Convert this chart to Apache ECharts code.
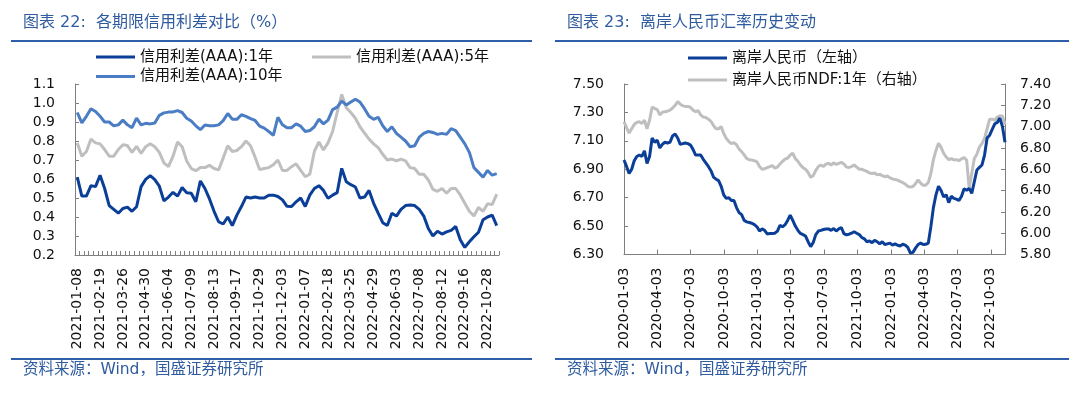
<!DOCTYPE html>
<html><head><meta charset="utf-8">
<script src="https://cdn.jsdelivr.net/npm/echarts@6/dist/echarts.min.js"></script>
<style>html,body{margin:0;padding:0;background:#fff}#c{width:1080px;height:395px}</style>
</head><body><div id="c"></div>
<script>
// ---------- Chart 22: credit spreads (weekly) ----------
const spreadDates = [
'2021-01-08','2021-01-15','2021-01-22','2021-01-29','2021-02-05','2021-02-19','2021-02-26','2021-03-05','2021-03-12','2021-03-19',
'2021-03-26','2021-04-02','2021-04-09','2021-04-16','2021-04-23','2021-04-30','2021-05-07','2021-05-14','2021-05-21','2021-05-28',
'2021-06-04','2021-06-11','2021-06-18','2021-06-25','2021-07-02','2021-07-09','2021-07-16','2021-07-23','2021-07-30','2021-08-06',
'2021-08-13','2021-08-20','2021-08-27','2021-09-03','2021-09-10','2021-09-17','2021-09-24','2021-10-08','2021-10-15','2021-10-22',
'2021-10-29','2021-11-05','2021-11-12','2021-11-19','2021-11-26','2021-12-03','2021-12-10','2021-12-17','2021-12-24','2021-12-31',
'2022-01-07','2022-01-14','2022-01-21','2022-01-28','2022-02-11','2022-02-18','2022-02-25','2022-03-04','2022-03-11','2022-03-18',
'2022-03-25','2022-04-01','2022-04-08','2022-04-15','2022-04-22','2022-04-29','2022-05-06','2022-05-13','2022-05-20','2022-05-27',
'2022-06-03','2022-06-10','2022-06-17','2022-06-24','2022-07-01','2022-07-08','2022-07-15','2022-07-22','2022-07-29','2022-08-05',
'2022-08-12','2022-08-19','2022-08-26','2022-09-02','2022-09-09','2022-09-16','2022-09-23','2022-09-30','2022-10-14','2022-10-21',
'2022-10-28','2022-11-04','2022-11-11'];
const spread1Y = [
0.61,0.51,0.51,0.565,0.56,0.62,0.55,0.46,0.44,0.42,
0.445,0.452,0.43,0.454,0.56,0.598,0.618,0.597,0.562,0.485,
0.505,0.53,0.51,0.555,0.528,0.525,0.48,0.59,0.55,0.495,
0.43,0.375,0.363,0.40,0.355,0.41,0.455,0.505,0.50,0.505,
0.50,0.50,0.515,0.515,0.508,0.49,0.456,0.455,0.48,0.50,
0.455,0.515,0.55,0.565,0.54,0.498,0.515,0.528,0.656,0.585,
0.57,0.558,0.50,0.505,0.54,0.472,0.42,0.37,0.355,0.42,
0.405,0.44,0.46,0.463,0.46,0.44,0.405,0.34,0.30,0.325,
0.31,0.322,0.33,0.35,0.28,0.24,0.27,0.296,0.32,0.385,
0.40,0.41,0.355];
const spread5Y = [
0.79,0.72,0.745,0.81,0.79,0.785,0.755,0.72,0.72,0.755,
0.78,0.776,0.74,0.772,0.735,0.77,0.785,0.77,0.74,0.685,
0.665,0.72,0.795,0.77,0.695,0.655,0.644,0.66,0.66,0.672,
0.655,0.648,0.71,0.775,0.745,0.75,0.77,0.80,0.775,0.715,
0.65,0.655,0.66,0.675,0.70,0.645,0.645,0.665,0.68,0.645,
0.612,0.625,0.745,0.795,0.753,0.79,0.85,0.95,1.045,0.975,
0.95,0.92,0.875,0.842,0.81,0.785,0.765,0.73,0.70,0.705,
0.695,0.705,0.695,0.66,0.655,0.625,0.625,0.595,0.545,0.535,
0.55,0.525,0.55,0.55,0.516,0.472,0.43,0.405,0.45,0.43,
0.47,0.465,0.52];
const spread10Y = [
0.95,0.895,0.93,0.97,0.955,0.93,0.90,0.90,0.88,0.885,
0.91,0.885,0.87,0.92,0.885,0.893,0.89,0.895,0.935,0.948,
0.952,0.953,0.96,0.95,0.92,0.905,0.88,0.86,0.884,0.88,
0.88,0.885,0.907,0.945,0.915,0.914,0.938,0.93,0.918,0.908,
0.878,0.868,0.85,0.83,0.925,0.885,0.87,0.87,0.89,0.878,
0.85,0.855,0.875,0.915,0.89,0.91,0.965,0.978,1.01,0.99,
1.005,1.02,1.005,0.97,0.93,0.914,0.925,0.88,0.85,0.875,
0.84,0.82,0.80,0.77,0.775,0.82,0.84,0.85,0.845,0.835,
0.84,0.835,0.865,0.855,0.82,0.785,0.74,0.66,0.635,0.61,
0.645,0.62,0.628];
const spreadTicks = [0.2,0.3,0.4,0.5,0.6,0.7,0.8,0.9,1.0,1.1];

// ---------- Chart 23: offshore RMB (weekly, Fridays from 2020-01-03) ----------
const fxStart = '2020-01-03';
const fxEnd = '2022-11-11';
const cnhWeekly = [
6.965,6.92,6.87,6.90,6.96,6.99,7.00,6.99,7.03,6.94,
6.99,7.12,7.09,7.105,7.05,7.075,7.09,7.085,7.09,7.135,
7.148,7.12,7.075,7.08,7.085,7.08,7.07,7.04,7.00,7.00,
7.00,6.97,6.945,6.92,6.89,6.845,6.83,6.82,6.78,6.72,
6.695,6.70,6.68,6.68,6.63,6.595,6.58,6.54,6.53,6.525,
6.52,6.51,6.495,6.465,6.48,6.47,6.445,6.448,6.448,6.45,
6.465,6.505,6.495,6.51,6.54,6.577,6.54,6.50,6.47,6.448,
6.44,6.43,6.39,6.355,6.385,6.44,6.465,6.47,6.476,6.48,
6.48,6.47,6.483,6.465,6.48,6.49,6.447,6.438,6.443,6.45,
6.46,6.45,6.44,6.42,6.41,6.39,6.396,6.383,6.40,6.39,
6.375,6.39,6.37,6.375,6.38,6.366,6.375,6.365,6.36,6.372,
6.366,6.35,6.31,6.315,6.345,6.37,6.38,6.37,6.372,6.38,
6.495,6.63,6.72,6.78,6.75,6.705,6.72,6.665,6.71,6.695,
6.69,6.68,6.71,6.762,6.753,6.765,6.73,6.812,6.895,6.913,
6.93,7.00,7.12,7.14,7.18,7.22,7.23,7.26,7.20,7.09];
const ndfWeekly = [
7.046,6.99,6.94,6.98,7.02,7.04,7.046,7.03,7.06,6.98,
7.06,7.185,7.17,7.16,7.11,7.135,7.14,7.145,7.155,7.175,
7.20,7.235,7.21,7.195,7.19,7.19,7.18,7.155,7.14,7.15,
7.11,7.09,7.085,7.07,7.05,7.01,6.98,6.98,7.00,6.935,
6.89,6.86,6.84,6.85,6.83,6.79,6.765,6.735,6.70,6.69,
6.686,6.68,6.67,6.625,6.60,6.605,6.615,6.625,6.635,6.61,
6.62,6.65,6.675,6.695,6.705,6.733,6.75,6.70,6.675,6.64,
6.615,6.60,6.57,6.525,6.54,6.59,6.625,6.64,6.625,6.65,
6.655,6.64,6.66,6.645,6.655,6.665,6.65,6.62,6.617,6.625,
6.64,6.62,6.60,6.60,6.59,6.58,6.565,6.56,6.565,6.548,
6.552,6.54,6.53,6.536,6.52,6.51,6.503,6.498,6.486,6.475,
6.46,6.44,6.432,6.438,6.465,6.50,6.47,6.45,6.45,6.475,
6.56,6.69,6.775,6.843,6.805,6.75,6.715,6.69,6.70,6.688,
6.69,6.68,6.698,6.71,6.686,6.42,6.56,6.70,6.74,6.81,
6.84,6.89,6.98,7.07,7.07,7.06,7.09,7.10,7.10,7.02];
const cnhTicks = [6.3,6.5,6.7,6.9,7.1,7.3,7.5];
const ndfTicks = [5.8,6.0,6.2,6.4,6.6,6.8,7.0,7.2,7.4];
const fxLabelDates = ['2020-01-03','2020-04-03','2020-07-03','2020-10-03','2021-01-03','2021-04-03',
  '2021-07-03','2021-10-03','2022-01-03','2022-04-03','2022-07-03','2022-10-03'];

// calendar days for the FX category axis
function calendarDays(a, b) {
  const out = [];
  const p = s => { const [y, m, d] = s.split('-').map(Number); return Date.UTC(y, m - 1, d); };
  for (let t = p(a); t <= p(b); t += 86400000) {
    const d = new Date(t);
    out.push(d.getUTCFullYear() + '-' + String(d.getUTCMonth() + 1).padStart(2, '0') + '-' + String(d.getUTCDate()).padStart(2, '0'));
  }
  return out;
}
const fxDays = calendarDays(fxStart, fxEnd);
const fxWeeks = fxDays.filter((d, i) => i % 7 === 0);
const fxLabelSet = new Set(fxLabelDates);

const BLUE_TITLE = '#2f5b9f', RULE = '#2e5fa8';
const C1 = '#0b3f97', C10 = '#4a7dc4', GRAY = '#bfbfbf';
const AX = '#7f7f7f', TXT = '#111';
const FONT = "'DejaVu Sans','Noto Sans CJK SC',sans-serif";
const CJK = "'DejaVu Sans','Noto Sans CJK SC',sans-serif";

const chart = echarts.init(document.getElementById('c'), null, {renderer: 'canvas'});

const titleStyle = {fontSize: 16, color: BLUE_TITLE, fontWeight: 'normal', fontFamily: CJK};
const footStyle = {fontSize: 15.5, color: BLUE_TITLE, fontWeight: 'normal', fontFamily: CJK};
const legendText = {fontSize: 15, color: TXT, fontFamily: CJK};
function lg(name, left, top, color) {
  return {data: [name], left, top, padding: 0, icon: 'rect', itemWidth: 39, itemHeight: 3,
    selectedMode: false, textStyle: legendText, itemStyle: {color}};
}
const yLabel = {fontSize: 14, color: TXT, fontFamily: FONT};

chart.setOption({
  animation: false,
  backgroundColor: '#fff',
  title: [
    {text: '图表 22:  各期限信用利差对比（%）', left: 23, top: 15, padding: 0, textStyle: titleStyle},
    {text: '图表 23:  离岸人民币汇率历史变动', left: 567, top: 15, padding: 0, textStyle: titleStyle},
    {text: '资料来源：Wind，国盛证券研究所', left: 23, top: 362, padding: 0, textStyle: footStyle},
    {text: '资料来源：Wind，国盛证券研究所', left: 567, top: 362, padding: 0, textStyle: footStyle}
  ],
  graphic: [
    {type: 'rect', shape: {x: 11, y: 40, width: 521, height: 2}, style: {fill: RULE}, silent: true},
    {type: 'rect', shape: {x: 555, y: 40, width: 514, height: 2}, style: {fill: RULE}, silent: true},
    {type: 'rect', shape: {x: 11, y: 358, width: 521, height: 2}, style: {fill: RULE}, silent: true},
    {type: 'rect', shape: {x: 555, y: 358, width: 514, height: 2}, style: {fill: RULE}, silent: true}
  ],
  legend: [
    lg('信用利差(AAA):1年', 96, 49.5, C1),
    lg('信用利差(AAA):5年', 312, 49.5, GRAY),
    lg('信用利差(AAA):10年', 96, 69, C10),
    lg('离岸人民币（左轴）', 688, 50.5, C1),
    lg('离岸人民币NDF:1年（右轴）', 688, 72.5, GRAY)
  ],
  grid: [
    {left: 75, top: 84, width: 424, height: 171, outerBoundsMode: 'none'},
    {left: 624, top: 84, width: 381, height: 170.5, outerBoundsMode: 'none'}
  ],
  xAxis: [
    {type: 'category', gridIndex: 0, data: spreadDates, boundaryGap: true,
      axisLine: {lineStyle: {color: AX, width: 1}},
      axisTick: {show: true, inside: true, length: 4, interval: 0, lineStyle: {color: AX}},
      axisLabel: {interval: 4, rotate: 90, margin: 13, fontSize: 14, color: TXT, fontFamily: FONT},
      splitLine: {show: false}},
    {type: 'category', gridIndex: 1, data: fxDays, boundaryGap: false,
      axisLine: {lineStyle: {color: AX, width: 1}},
      axisTick: {show: true, inside: true, length: 5, interval: (i, v) => fxLabelSet.has(v), lineStyle: {color: AX}},
      axisLabel: {interval: (i, v) => fxLabelSet.has(v), rotate: 90, margin: 13, fontSize: 14, color: TXT, fontFamily: FONT},
      splitLine: {show: false}}
  ],
  yAxis: [
    {type: 'value', gridIndex: 0, min: 0.2, max: 1.1,
      axisLine: {show: true, lineStyle: {color: AX, width: 1}},
      axisTick: {show: true, inside: true, length: 4, customValues: spreadTicks, lineStyle: {color: AX}},
      axisLabel: Object.assign({margin: 20, customValues: spreadTicks, formatter: v => v.toFixed(1)}, yLabel),
      splitLine: {show: false}},
    {type: 'value', gridIndex: 1, min: 6.3, max: 7.5, position: 'left',
      axisLine: {show: true, lineStyle: {color: AX, width: 1}},
      axisTick: {show: true, inside: true, length: 4, customValues: cnhTicks, lineStyle: {color: AX}},
      axisLabel: Object.assign({margin: 20, customValues: cnhTicks, formatter: v => v.toFixed(2)}, yLabel),
      splitLine: {show: false}},
    {type: 'value', gridIndex: 1, min: 5.8, max: 7.4, position: 'right',
      axisLine: {show: true, lineStyle: {color: AX, width: 1}},
      axisTick: {show: true, inside: true, length: 4, customValues: ndfTicks, lineStyle: {color: AX}},
      axisLabel: Object.assign({margin: 15, customValues: ndfTicks, formatter: v => v.toFixed(2)}, yLabel),
      splitLine: {show: false}}
  ],
  series: [
    {name: '信用利差(AAA):1年', type: 'line', xAxisIndex: 0, yAxisIndex: 0, data: spread1Y,
      symbol: 'none', lineStyle: {width: 3, color: C1}, itemStyle: {color: C1}},
    {name: '信用利差(AAA):5年', type: 'line', xAxisIndex: 0, yAxisIndex: 0, data: spread5Y,
      symbol: 'none', lineStyle: {width: 3, color: GRAY}, itemStyle: {color: GRAY}},
    {name: '信用利差(AAA):10年', type: 'line', xAxisIndex: 0, yAxisIndex: 0, data: spread10Y,
      symbol: 'none', lineStyle: {width: 3, color: C10}, itemStyle: {color: C10}},
    {name: '离岸人民币NDF:1年（右轴）', type: 'line', xAxisIndex: 1, yAxisIndex: 2,
      data: fxWeeks.map((d, k) => [d, ndfWeekly[k]]),
      symbol: 'none', lineStyle: {width: 3, color: GRAY}, itemStyle: {color: GRAY}},
    {name: '离岸人民币（左轴）', type: 'line', xAxisIndex: 1, yAxisIndex: 1,
      data: fxWeeks.map((d, k) => [d, cnhWeekly[k]]),
      symbol: 'none', lineStyle: {width: 3, color: C1}, itemStyle: {color: C1}}
  ]
});
</script></body></html>
